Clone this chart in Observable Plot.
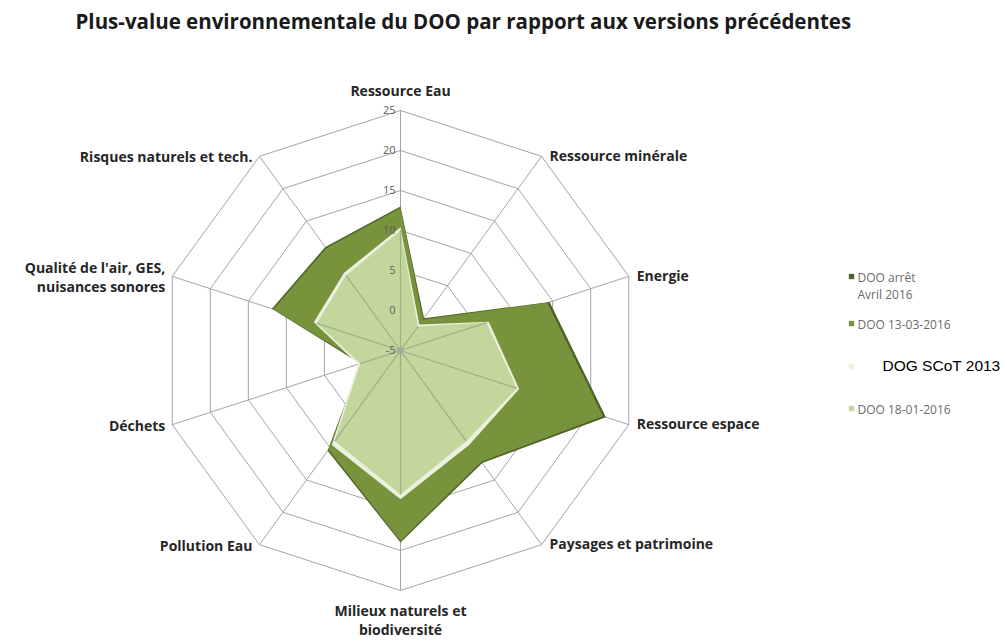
<!DOCTYPE html>
<html>
<head>
<meta charset="utf-8">
<script src="https://cdn.jsdelivr.net/npm/d3@7"></script>
<script src="https://cdn.jsdelivr.net/npm/@observablehq/plot@0.6"></script>
<style>
  html, body { margin: 0; padding: 0; background: #fff; }
  #chart svg { display: block; }
</style>
</head>
<body>
<div id="chart"></div>
<script>
// ---- data ----
const chartTitle = "Plus-value environnementale du DOO par rapport aux versions précédentes";
const axisLabels = [
  "Ressource Eau",
  "Ressource minérale",
  "Energie",
  "Ressource espace",
  "Paysages et patrimoine",
  "Milieux naturels et\nbiodiversité",
  "Pollution Eau",
  "Déchets",
  "Qualité de l'air, GES,\nnuisances sonores",
  "Risques naturels et tech."
];
const dooArret   = [13.0, 0.0, 14.6, 22.0, 12.4, 19.0, 10.5, 0.3, 11.9, 11.0];
const doo1303    = [12.8, -0.2, 14.3, 21.6, 12.2, 18.8, 10.3, 0.1, 11.7, 10.8];
const dogScot2013 = [10.4, -1.0, 6.6, 10.6, 9.6, 13.6, 9.6, 0.6, 6.4, 7.0];
const doo1801    = [10.0, -1.3, 6.3, 10.3, 9.0, 13.0, 9.0, 0.3, 6.0, 6.6];
const seriesNames = ["DOO arrêt\nAvril 2016", "DOO 13-03-2016", "DOG SCoT 2013", "DOO 18-01-2016"];
const seriesColors = ["#4F6228", "#77933C", "#EBF1DE", "#C3D69B"];
const tickValues = [-5, 0, 5, 10, 15, 20, 25];

// ---- geometry helpers ----
const vMin = -5, vMax = 25;
const n = axisLabels.length;
const norm = v => (v - vMin) / (vMax - vMin);
const ang = i => (i * 2 * Math.PI) / n;
const px = (v, i) => norm(v) * Math.sin(ang(i));
const py = (v, i) => norm(v) * Math.cos(ang(i));

const allSeries = [dooArret, doo1303, dogScot2013, doo1801];
const polys = allSeries.flatMap((vals, s) =>
  d3.range(n + 1).map(k => ({s, x: px(vals[k % n], k % n), y: py(vals[k % n], k % n)}))
);
const grid = tickValues.slice(1).flatMap(t =>
  d3.range(n + 1).map(k => ({t, x: px(t, k % n), y: py(t, k % n)}))
);
const spokes = d3.range(n).map(i => ({x1: 0, y1: 0, x2: px(vMax, i), y2: py(vMax, i)}));
const innerSpokes = d3.range(n).map(i => ({x1: 0, y1: 0, x2: px(doo1801[i], i), y2: py(doo1801[i], i)}));
const labels = axisLabels.map((l, i) => ({l, i, x: px(vMax, i), y: py(vMax, i)}));
const tickData = tickValues.map(t => ({t, x: px(t, 0), y: py(t, 0)}));
const legend = seriesNames.map((name, k) => ({name, k, color: seriesColors[k]}));

const W = 1007, H = 641, R = 240, cx = 400, cy = 350;
const lblFont = "'Open Sans', sans-serif";
const lblSize = 14;

const polyMarks = allSeries.map((_, s) =>
  Plot.line(polys.filter(d => d.s === s), {x: "x", y: "y", fill: seriesColors[s], stroke: "none", curve: "linear"})
);

const legendY = [276, 323, 366, 408];

const chart = Plot.plot({
  width: W, height: H,
  margin: 0,
  x: {domain: [-cx / R, (W - cx) / R], axis: null},
  y: {domain: [-(H - cy) / R, cy / R], axis: null},
  style: {fontFamily: lblFont, background: "#fff"},
  marks: [
    Plot.line(grid, {x: "x", y: "y", z: "t", stroke: "#a3a3ad", strokeWidth: 1}),
    Plot.link(spokes, {x1: "x1", y1: "y1", x2: "x2", y2: "y2", stroke: "#a3a3ad", strokeWidth: 1}),
    ...polyMarks,
    Plot.link(innerSpokes, {x1: "x1", y1: "y1", x2: "x2", y2: "y2", stroke: "#9fae86", strokeWidth: 1.2}),
    Plot.dot(tickData.filter(d => d.t === vMin), {x: "x", y: "y", r: 3.5, fill: "#a4ad9c"}),
    // tick labels
    Plot.text(tickData, {x: "x", y: "y", text: d => String(d.t), textAnchor: "end", dx: -5, fill: "#5e5e5e", fontSize: 11}),
    // axis labels
    Plot.text(labels.filter(d => d.i === 0), {x: "x", y: "y", text: "l", textAnchor: "middle", lineAnchor: "bottom", dy: -15, fontSize: lblSize, fontWeight: "bold", fill: "#262626"}),
    Plot.text(labels.filter(d => d.i === n / 2), {x: "x", y: "y", text: "l", textAnchor: "middle", lineAnchor: "top", dy: 12, fontSize: lblSize, fontWeight: "bold", fill: "#262626", lineHeight: 1.35}),
    Plot.text(labels.filter(d => d.i > 0 && d.i < n / 2), {x: "x", y: "y", text: "l", textAnchor: "start", dx: 8, fontSize: lblSize, fontWeight: "bold", fill: "#262626"}),
    Plot.text(labels.filter(d => d.i > n / 2), {x: "x", y: "y", text: "l", textAnchor: "end", dx: -7, fontSize: lblSize, fontWeight: "bold", fill: "#262626", lineHeight: 1.35}),
    // title
    Plot.text([chartTitle], {frameAnchor: "top-left", dx: 75, dy: 14, text: d => d, textAnchor: "start", lineAnchor: "top", fontSize: 20.5, fontWeight: "bold", fill: "#1a1a1a"}),
    // legend
    Plot.dot(legend, {x: () => (851 - cx) / R, y: d => (cy - legendY[d.k]) / R, symbol: "square", r: 3, fill: "color"}),
    Plot.text(legend.filter(d => d.k !== 2), {x: () => (857 - cx) / R, y: d => (cy - legendY[d.k]) / R, text: "name", textAnchor: "start", lineAnchor: "top", dy: -7, fontSize: 12, fill: "#6b6b6b", lineHeight: 1.45}),
    Plot.text(legend.filter(d => d.k === 2), {x: () => (882 - cx) / R, y: d => (cy - legendY[d.k]) / R, text: "name", textAnchor: "start", fontSize: 15.5, fontFamily: "'Liberation Sans', Arial, sans-serif", fill: "#000"})
  ]
});
document.getElementById("chart").appendChild(chart);
</script>
</body>
</html>
